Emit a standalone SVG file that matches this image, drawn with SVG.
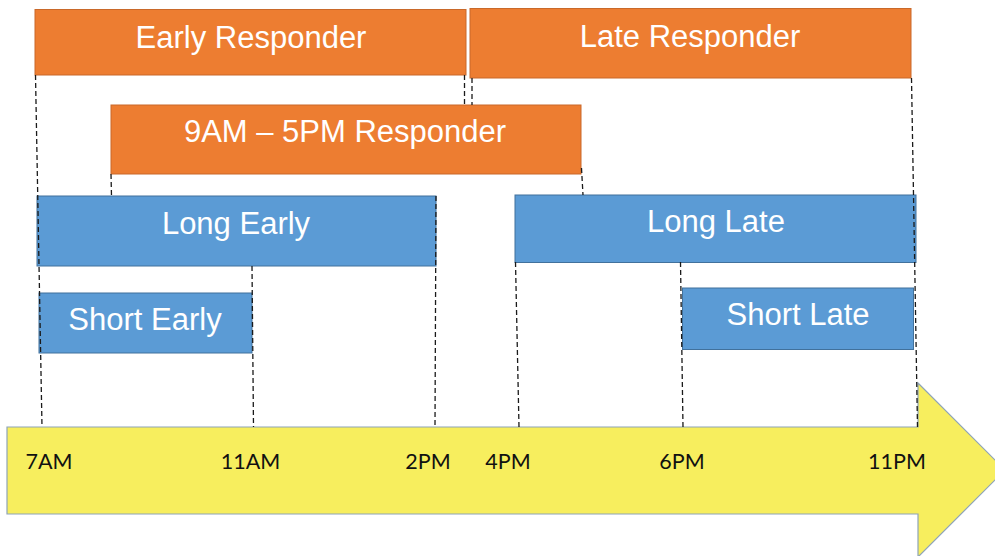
<svg xmlns="http://www.w3.org/2000/svg" width="995" height="556" viewBox="0 0 995 556">
  <style>
    .orange { fill: #ED7D31; stroke: #C9692A; stroke-width: 1; }
    .blue { fill: #5B9BD5; stroke: #41719C; stroke-width: 1; }
    .label { font-family: "Liberation Sans", Arial, sans-serif; font-size: 31px; fill: #ffffff; text-anchor: middle; }
    .tick { font-family: Lato, "Open Sans", sans-serif; font-size: 21.5px; fill: #111111; text-anchor: middle; }
    .guide { stroke: #1a1a1a; stroke-width: 1.3; stroke-dasharray: 5 3; fill: none; }
  </style>
  <rect width="995" height="556" fill="#ffffff"/>

  <!-- timeline arrow -->
  <g id="timeline">
    <polygon points="7,427 918,427 918,383 1005,470 918,557 918,514 7,514" fill="#F7EE5E" stroke="#8EA4B8" stroke-width="1.2"/>
    <text class="tick" x="49" y="469">7AM</text>
    <text class="tick" x="250.5" y="469">11AM</text>
    <text class="tick" x="428" y="469">2PM</text>
    <text class="tick" x="508" y="469">4PM</text>
    <text class="tick" x="682" y="469">6PM</text>
    <text class="tick" x="897" y="469">11PM</text>
  </g>

  <!-- responder bars -->
  <g id="early-responder">
    <rect class="orange" x="35" y="9.5" width="431" height="65.5"/>
    <text class="label" x="251" y="48">Early Responder</text>
  </g>
  <g id="late-responder">
    <rect class="orange" x="470" y="8.5" width="441" height="69.5"/>
    <text class="label" x="690" y="47">Late Responder</text>
  </g>
  <g id="nine-to-five-responder">
    <rect class="orange" x="111" y="105" width="470" height="69"/>
    <text class="label" x="345" y="142">9AM – 5PM Responder</text>
  </g>
  <g id="long-early">
    <rect class="blue" x="37" y="196" width="399" height="70"/>
    <text class="label" x="236" y="234">Long Early</text>
  </g>
  <g id="short-early">
    <rect class="blue" x="39" y="293" width="213" height="60"/>
    <text class="label" x="145" y="329.5">Short Early</text>
  </g>
  <g id="long-late">
    <rect class="blue" x="515" y="195" width="401" height="67.5"/>
    <text class="label" x="716" y="232">Long Late</text>
  </g>
  <g id="short-late">
    <rect class="blue" x="682.5" y="288" width="231" height="61.5"/>
    <text class="label" x="798" y="325">Short Late</text>
  </g>

  <!-- dashed guide connectors -->
  <g id="connectors">
    <line class="guide" x1="35.5" y1="75" x2="42" y2="427"/>
    <line class="guide" x1="111" y1="174" x2="111.5" y2="196"/>
    <line class="guide" x1="464.5" y1="75" x2="464.5" y2="105"/>
    <line class="guide" x1="472" y1="78" x2="472" y2="105"/>
    <line class="guide" x1="581.5" y1="168" x2="583" y2="195"/>
    <line class="guide" x1="911.5" y1="78" x2="917.5" y2="427"/>
    <line class="guide" x1="436" y1="196" x2="435" y2="426"/>
    <line class="guide" x1="252" y1="266" x2="253.5" y2="427"/>
    <line class="guide" x1="515.5" y1="262" x2="519" y2="427"/>
    <line class="guide" x1="680.5" y1="262" x2="683" y2="427"/>
  </g>
</svg>
